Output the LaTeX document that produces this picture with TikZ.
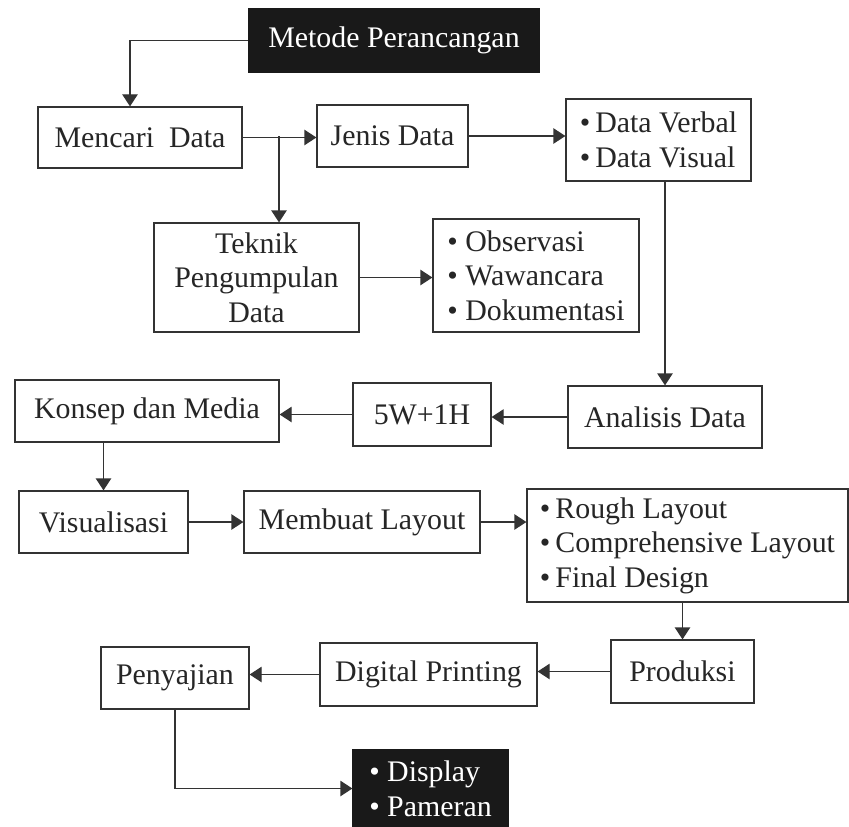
\documentclass[tikz,border=0pt]{standalone}
\usepackage{fontspec}
\setmainfont{Liberation Serif}
\usepackage{tikz}
\usetikzlibrary{arrows.meta, calc, positioning}

\begin{document}
\begin{tikzpicture}[x=0.3mm, y=-0.3mm,
        kotak/.style={draw=black!80, line width=0.35mm, fill=white, text=black!85, inner sep=2mm,
            font=\fontsize{25.5}{29.5}\selectfont},
        kotakhitam/.style={kotak, fill=black!90, draw=black!90, text=white},
        daftar/.style={align=left},
        panah/.style={draw=black!80, line width=0.35mm, -{Triangle[length=3.6mm, width=4.6mm]}}]
        \useasboundingbox (0,0) rectangle (849,827);

        % Baris atas
        \node[kotakhitam, minimum width=87mm, minimum height=18.9mm] (metode) at (394,40.5) {Metode Perancangan};
        \node[kotak, minimum width=61.2mm, minimum height=18.3mm] (mencari) at (140,137.5) {Mencari\ \ Data};
        \node[kotak, minimum width=45.3mm, minimum height=18.6mm] (jenis) at (392.5,136) {Jenis Data};
        \node[kotak, daftar, minimum width=55.5mm, minimum height=24.6mm] (verbal) at (658.5,140) {\textbullet\,Data Verbal\\\textbullet\,Data Visual};
        \node[kotak, align=center, minimum width=61.5mm, minimum height=32.7mm] (teknik) at (256.5,277.5) {Teknik\\Pengumpulan\\Data};
        \node[kotak, daftar, minimum width=61.8mm, minimum height=33.9mm] (observasi) at (536,275.5) {\textbullet\ Observasi\\\textbullet\ Wawancara\\\textbullet\ Dokumentasi};

        % Baris tengah
        \node[kotak, minimum width=79.2mm, minimum height=18.6mm] (konsep) at (147,411) {Konsep dan Media};
        \node[kotak, minimum width=41.4mm, minimum height=18.9mm] (fivew) at (422,414.5) {5W+1H};
        \node[kotak, minimum width=58.2mm, minimum height=18.6mm] (analisis) at (665,417) {Analisis Data};
        \node[kotak, minimum width=50.7mm, minimum height=18.6mm] (visual) at (103.5,522) {Visualisasi};
        \node[kotak, minimum width=70.8mm, minimum height=18.6mm] (layout) at (362,522) {Membuat Layout};
        \node[kotak, daftar, minimum width=96.3mm, minimum height=33.9mm] (rough) at (687.5,545.5) {\textbullet\,Rough Layout\\\textbullet\,Comprehensive Layout\\\textbullet\,Final Design};

        % Baris bawah
        \node[kotak, minimum width=42.9mm, minimum height=18.9mm] (produksi) at (682.5,671.5) {Produksi};
        \node[kotak, minimum width=65.1mm, minimum height=18.9mm] (digital) at (428.5,674.5) {Digital Printing};
        \node[kotak, minimum width=44.4mm, minimum height=18.6mm] (penyajian) at (175,678) {Penyajian};
        \node[kotakhitam, daftar, minimum width=46.5mm, minimum height=23.1mm] (display) at (430.5,788.5) {\textbullet\ Display\\\textbullet\ Pameran};

        % Alur
        \coordinate (cabang) at (279,136);
        \draw[panah] (metode.west) -| ([xshift=-3mm]mencari.north);
        \draw[panah] (mencari.east) -- (mencari.east -| jenis.west);
        \draw[panah] (cabang) -- (cabang |- teknik.north);
        \draw[panah] (jenis.east) -- (jenis.east -| verbal.west);
        \draw[panah] (teknik.east) -- (teknik.east -| observasi.west);
        \draw[panah] (verbal.south -| analisis.north) -- (analisis.north);
        \draw[panah] (analisis.west) -- (analisis.west -| fivew.east);
        \draw[panah] (fivew.west) -- (fivew.west -| konsep.east);
        \draw[panah] (konsep.south -| visual.north) -- (visual.north);
        \draw[panah] (visual.east) -- (layout.west);
        \draw[panah] (layout.east) -- (layout.east -| rough.west);
        \draw[panah] (rough.south -| produksi.north) -- (produksi.north);
        \draw[panah] (produksi.west) -- (produksi.west -| digital.east);
        \draw[panah] (digital.west) -- (digital.west -| penyajian.east);
        \draw[panah] (penyajian.south) |- (display.west);
    \end{tikzpicture}
\end{document}
